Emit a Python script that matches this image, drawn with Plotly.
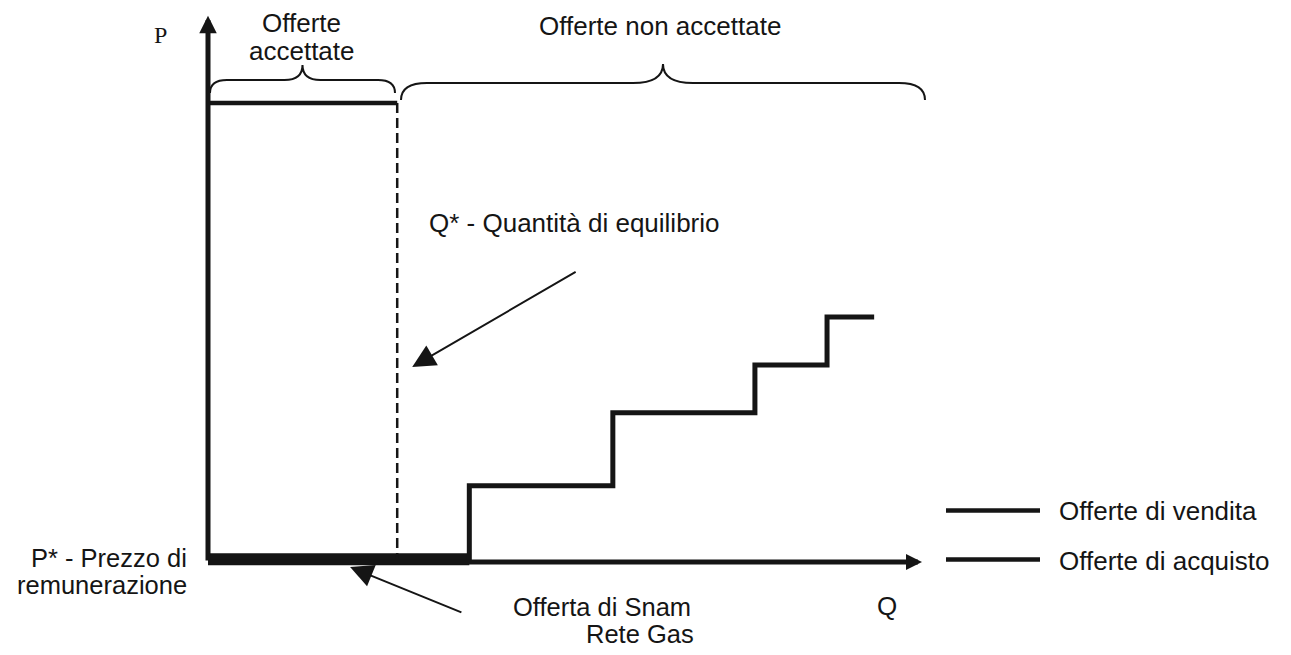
import plotly.graph_objects as go

# ---------------- data (chart units: Q horizontal, P vertical) ----------------
Q_AXIS_END = 10.0          # tip of the Q axis arrow
P_AXIS_END = 11.9          # tip of the P axis arrow

# Offerte di acquisto (demand bid, accepted up to Q*)
demand_q = [0.0, 2.65]
demand_p = [10.0, 10.0]
q_star = 2.65              # Q* - quantità di equilibrio

# Offerta di Snam Rete Gas (at price P* level)
snam_q = [0.0, 3.66]
snam_p = [0.06, 0.06]

# Offerte di vendita (stepped supply curve)
supply_step_q = [3.66, 5.67, 7.66, 8.67]
supply_step_p = [1.66, 3.25, 4.29, 5.34]
supply_end_q = 9.33

# ---------------- geometry of the canvas ----------------
W, H = 1291, 655
X0_PX, Y0_PX = 208, 562    # pixel of the origin
KX, KY = 71.4, 45.9        # pixels per unit
x_range = [-X0_PX / KX, (W - X0_PX) / KX]
y_range = [-(H - Y0_PX) / KY, Y0_PX / KY]

INK = "#151515"
SANS = "Liberation Sans, Arial, Helvetica, sans-serif"
SERIF = "Liberation Serif, Times New Roman, serif"
FS = 26


def px(x):
    return x / W


def py(y):
    return 1 - y / H


fig = go.Figure()

# Snam Rete Gas offer: thick bar along the axis
fig.add_trace(go.Scatter(x=snam_q, y=snam_p, mode="lines",
                         line=dict(color=INK, width=12), hoverinfo="skip",
                         showlegend=False))

# supply stairs
sx = [supply_step_q[0]] + supply_step_q + [supply_end_q]
sy = [0.0] + supply_step_p + [supply_step_p[-1]]
fig.add_trace(go.Scatter(x=sx, y=sy, mode="lines", line_shape="hv",
                         line=dict(color=INK, width=5), hoverinfo="skip",
                         showlegend=False, name="Offerte di vendita"))

# demand line
fig.add_trace(go.Scatter(x=demand_q, y=demand_p, mode="lines",
                         line=dict(color=INK, width=4.5), hoverinfo="skip",
                         showlegend=False, name="Offerte di acquisto"))

# Q* dashed line
fig.add_trace(go.Scatter(x=[q_star, q_star], y=[demand_p[-1], 0.0], mode="lines",
                         line=dict(color=INK, width=2.5, dash="10px,5px"),
                         hoverinfo="skip", showlegend=False))

annotations = []

# axes with arrow heads
annotations.append(dict(x=0, y=P_AXIS_END, ax=0, ay=0, xref="x", yref="y",
                        axref="x", ayref="y", text="", showarrow=True,
                        arrowhead=2, arrowsize=0.7, arrowwidth=5,
                        arrowcolor=INK, standoff=0))
annotations.append(dict(x=Q_AXIS_END, y=0, ax=0, ay=0, xref="x", yref="y",
                        axref="x", ayref="y", text="", showarrow=True,
                        arrowhead=2, arrowsize=0.64, arrowwidth=5,
                        arrowcolor=INK, standoff=0))

# pointer arrows
annotations.append(dict(x=2.86, y=4.25, ax=5.17, ay=6.34, xref="x", yref="y",
                        axref="x", ayref="y", text="", showarrow=True,
                        arrowhead=2, arrowsize=2.3, arrowwidth=2,
                        arrowcolor=INK, standoff=0))
annotations.append(dict(x=1.99, y=-0.11, ax=3.57, ay=-1.11, xref="x", yref="y",
                        axref="x", ayref="y", text="", showarrow=True,
                        arrowhead=2, arrowsize=2.3, arrowwidth=2,
                        arrowcolor=INK, standoff=0))


def label(text, x, y, xanchor="center", family=SANS, size=FS):
    annotations.append(dict(text=text, x=px(x), y=py(y), xref="paper",
                            yref="paper", xanchor=xanchor, yanchor="middle",
                            showarrow=False,
                            font=dict(family=family, size=size, color=INK)))


label("P", 160, 35, family=SERIF, size=24)
label("Offerte", 301.5, 23)
label("accettate", 301.5, 51)
label("Offerte non accettate", 659.5, 26)
label("Q* - Quantità di equilibrio", 427, 222.7, xanchor="left")
label("P* - Prezzo di", 189, 557.5, xanchor="right", size=25.5)
label("remunerazione", 189, 585, xanchor="right", size=25.5)
label("Offerta di Snam", 511, 606.5, xanchor="left", size=25.5)
label("Rete Gas", 584, 634, xanchor="left", size=25.5)
label("Q", 887.5, 606)
label("Offerte di vendita", 1057, 511, xanchor="left")
label("Offerte di acquisto", 1057, 561, xanchor="left")

shapes = []


def brace(x0, x1, y_end, y_flat, y_tip, r_end, r_tip):
    xm = (x0 + x1) / 2
    P = lambda x, y: f"{px(x):.5f},{py(y):.5f}"
    path = (f"M {P(x0, y_end)} Q {P(x0, y_flat)} {P(x0 + r_end, y_flat)} "
            f"L {P(xm - r_tip, y_flat)} Q {P(xm, y_flat)} {P(xm, y_tip)} "
            f"Q {P(xm, y_flat)} {P(xm + r_tip, y_flat)} "
            f"L {P(x1 - r_end, y_flat)} Q {P(x1, y_flat)} {P(x1, y_end)}")
    shapes.append(dict(type="path", path=path, xref="paper", yref="paper",
                       line=dict(color=INK, width=2)))


brace(210, 395, 93, 80, 65, 17, 18)
brace(401, 925, 100, 83, 64, 26, 30)

# manual legend lines
for yy in (510.5, 559.5):
    shapes.append(dict(type="line", xref="paper", yref="paper",
                       x0=px(946), x1=px(1040), y0=py(yy), y1=py(yy),
                       line=dict(color=INK, width=4.5)))

fig.update_layout(
    width=W, height=H,
    margin=dict(l=0, r=0, t=0, b=0, pad=0),
    paper_bgcolor="white", plot_bgcolor="white",
    xaxis=dict(range=x_range, visible=False, fixedrange=True),
    yaxis=dict(range=y_range, visible=False, fixedrange=True),
    annotations=annotations, shapes=shapes, showlegend=False,
)

fig.write_html("out.html", config={"displayModeBar": False},
               post_script="document.body.style.margin='0';document.body.style.overflow='hidden';")
